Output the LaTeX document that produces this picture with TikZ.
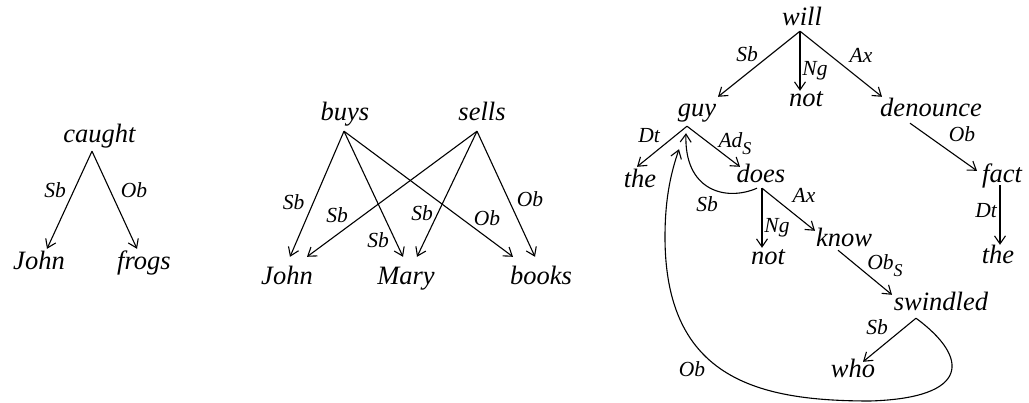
\documentclass[tikz,border=0pt]{standalone}
\usepackage{fontspec}
\setmainfont{Liberation Serif}
\usetikzlibrary{arrows.meta}

% lowered subscript on labels
\newcommand\depsub[1]{\raisebox{-7pt}{\fontsize{18}{18}\selectfont #1}}

\tikzset{
    word/.style={font=\fontsize{26.5}{28}\selectfont\itshape, inner sep=0pt,
        anchor=base, text height=21pt, text depth=8pt},
    lbl/.style={font=\fontsize{21.5}{23}\selectfont\itshape, inner sep=0pt, anchor=base},
    dep/.style={line width=1.1pt, -{Straight Barb[length=8pt,width=11pt]}},
}

\begin{document}
\begin{tikzpicture}[x=1pt,y=-1pt]
\useasboundingbox (0,0) rectangle (1029,403);

% Tree one: caught
\node[word] (caught) at (99.5,143) {caught};
\node[word] (john1) at (39,270) {John};
\node[word] (frogs) at (144,270) {frogs};
\draw[dep] ([xshift=-7.5]caught.south) -- ([xshift=8]john1.north);
\draw[dep] ([xshift=-7.5]caught.south) -- ([xshift=-7]frogs.north);
\node[lbl] (sbA) at (55,198) {Sb};
\node[lbl] (obA) at (134,198) {Ob};

% Tree two: buys and sells share their dependents
\node[word] (buys) at (345,121) {buys};
\node[word] (sells) at (482,121) {sells};
\node[word] (john2) at (287,285) {John};
\node[word] (mary) at (406,285) {Mary};
\node[word] (books) at (541,285) {books};
\draw[dep] ([xshift=-1,yshift=-2]buys.south) -- ([xshift=3,yshift=7]john2.north);
\draw[dep] ([xshift=-1,yshift=-2]buys.south) -- ([xshift=-3,yshift=7]mary.north);
\draw[dep] ([xshift=-1,yshift=-2]buys.south) -- ([xshift=-28,yshift=7]books.north);
\draw[dep] ([xshift=-5,yshift=-2]sells.south) -- ([xshift=20,yshift=7]john2.north);
\draw[dep] ([xshift=-5,yshift=-2]sells.south) -- ([xshift=11,yshift=7]mary.north);
\draw[dep] ([xshift=-5,yshift=-2]sells.south) -- ([xshift=-6,yshift=7]books.north);
\node[lbl] (sbB) at (293.5,210) {Sb};
\node[lbl] (sbC) at (337,223) {Sb};
\node[lbl] (sbD) at (378,248) {Sb};
\node[lbl] (sbE) at (422,221) {Sb};
\node[lbl] (obB) at (487,226) {Ob};
\node[lbl] (obC) at (530,207) {Ob};

% Tree three: will
\node[word] (will) at (802,26) {will};
\node[word] (guy) at (697,117) {guy};
\node[word] (not1) at (806,107) {not};
\node[word] (denounce) at (931,117) {denounce};
\node[word] (the1) at (640,188) {the};
\node[word] (does) at (761,183) {does};
\node[word] (fact) at (1002,183) {fact};
\node[word] (not2) at (768,265) {not};
\node[word] (know) at (844,247) {know};
\node[word] (swindled) at (941,311) {swindled};
\node[word] (who) at (853,378) {who};
\node[word] (the2) at (998,264) {the};

\draw[dep] ([xshift=-2,yshift=3]will.south) -- ([xshift=21,yshift=-1]guy.north);
\draw[dep] ([xshift=-2,yshift=3]will.south) -- ([xshift=-6,yshift=-5]not1.north);
\draw[dep] ([xshift=-2,yshift=3]will.south) -- ([xshift=-49,yshift=-1]denounce.north);
\draw[dep] ([xshift=-10,yshift=-1]guy.south) -- ([xshift=-3]the1.north);
\draw[dep] ([xshift=-10,yshift=-1]guy.south) -- ([xshift=-21,yshift=-5]does.north);
\draw[dep] ([xshift=-21,yshift=2]denounce.south) -- ([xshift=-25,yshift=-9]fact.north);
\draw[dep] ([xshift=-2,yshift=6]fact.south) -- ([xshift=2,yshift=-2]the2.north);
\draw[dep] ([xshift=1,yshift=3]does.south) -- ([xshift=-6,yshift=-4]not2.north);
\draw[dep] ([xshift=1,yshift=3]does.south) -- ([xshift=-29,yshift=-5]know.north);
\draw[dep] ([xshift=-6,yshift=5]know.south) -- ([xshift=-49,yshift=-5]swindled.north);
\draw[dep] ([xshift=-25,yshift=1]swindled.south) -- ([xshift=10,yshift=-5]who.north);

% curved links back to guy
\draw[dep] ([xshift=-4,yshift=3]does.south)
    .. controls (725,202) and (684,190) .. ([xshift=-11,yshift=-8]guy.south);
\draw[dep] ([xshift=-25,yshift=1]swindled.south)
    .. controls (970,358) and (970,398) .. (870,401)
    .. controls (760,401) and (665,380) .. (665,237)
    .. controls (665,195) and (672,170) .. ([xshift=-18,yshift=-24]guy.south);

\node[lbl] (sbF) at (747,62) {Sb};
\node[lbl] (ngA) at (815,76) {Ng};
\node[lbl] (axA) at (861,63) {Ax};
\node[lbl] (dtA) at (649,143) {Dt};
\node[lbl] (adS) at (735,148) {Ad\depsub{S}};
\node[lbl] (obD) at (962,142) {Ob};
\node[lbl] (sbG) at (707,212) {Sb};
\node[lbl] (axB) at (804,203) {Ax};
\node[lbl] (ngB) at (777,233) {Ng};
\node[lbl] (obS) at (885,270) {Ob\depsub{S}};
\node[lbl] (dtB) at (986,218) {Dt};
\node[lbl] (sbH) at (877,335) {Sb};
\node[lbl] (obE) at (692,377) {Ob};

\end{tikzpicture}
\end{document}
